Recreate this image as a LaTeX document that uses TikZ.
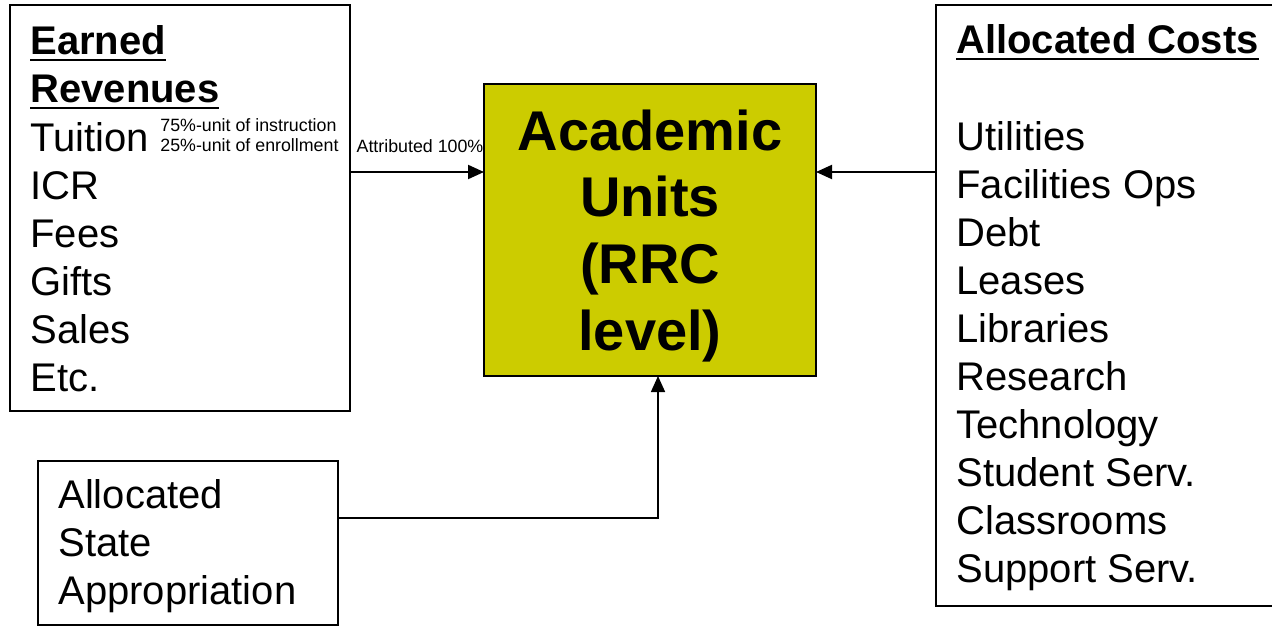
\documentclass[tikz,border=0pt]{standalone}
\usepackage{fontspec}
\setmainfont{Liberation Sans}
\usetikzlibrary{arrows.meta}
\definecolor{unitfill}{RGB}{204,204,0}
\newcommand\ulin[1]{\vtop{\hbox{#1}\kern1.8pt\hrule height 1pt}}

\begin{document}
\begin{tikzpicture}[x=0.5pt, y=-0.5pt,
  box/.style={draw, line width=1pt, inner sep=0, outer sep=0},
  big/.style={anchor=base west, inner sep=0, font=\fontsize{20}{24}\selectfont},
  bigb/.style={big, font=\fontsize{20}{24}\selectfont\bfseries},
  small/.style={anchor=base west, inner sep=0, font=\fontsize{8.9}{10.5}\selectfont},
  unittext/.style={anchor=base, inner sep=0, font=\fontsize{28}{33.5}\selectfont\bfseries},
  conn/.style={line width=1pt, -{Triangle[length=8pt,width=7pt]}}]
\useasboundingbox (0,0) rectangle (1272,626);
\node[box, minimum width=170pt, minimum height=203pt] (rev) at (180,208) {};
\node[box, fill=unitfill, minimum width=166pt, minimum height=146pt] (unit) at (650,230) {};
\node[box, minimum width=174.5pt, minimum height=300.5pt] (costs) at (1110.5,305.5) {};
\node[box, minimum width=150pt, minimum height=82pt] (state) at (188,543) {};

\node[bigb] (revtitle1) at (30,55) {\ulin{Earned}};
\node[bigb] (revtitle2) at (30,103) {\ulin{Revenues}};
\foreach \lbl [count=\i from 0] in {Tuition,ICR,Fees,Gifts,Sales,Etc.}
  \node[big] (revitem\i) at (30,151+48*\i) {\lbl};
\node[small] (split1) at (160,131.5) {75\%-unit of instruction};
\node[small] (split2) at (160,151.5) {25\%-unit of enrollment};

\foreach \lbl [count=\i from 0] in {Academic,Units,{(RRC},{level)}}
  \node[unittext] (unitline\i) at (650,150+66.7*\i) {\lbl};

\node[bigb] (coststitle) at (956,54) {\ulin{Allocated Costs}};
\foreach \lbl [count=\i from 2] in {Utilities,Facilities Ops,Debt,Leases,Libraries,Research,Technology,Student Serv.,Classrooms,Support Serv.}
  \node[big] (costitem\i) at (956,54+48*\i) {\lbl};

\foreach \lbl [count=\i from 0] in {Allocated,State,Appropriation}
  \node[big] (stateitem\i) at (58,508+48*\i) {\lbl};

\draw[conn] (rev.east |- 0,172) -- node[small, anchor=base, xshift=1.5pt, yshift=10pt] {Attributed 100\%} (unit.west |- 0,172);
\draw[conn] (costs.west |- 0,172) -- (unit.east |- 0,172);
\draw[conn, line width=0.8pt] (state.east |- 0,518) -| ([xshift=4pt]unit.south);
\end{tikzpicture}
\end{document}
